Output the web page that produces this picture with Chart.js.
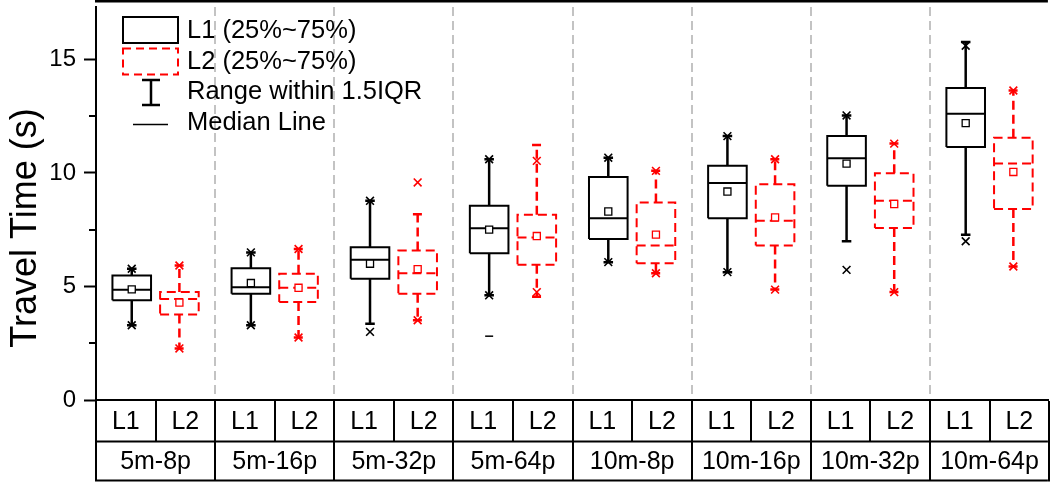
<!DOCTYPE html>
<html>
<head>
<meta charset="utf-8">
<script src="https://cdn.jsdelivr.net/npm/chart.js@4.4.0/dist/chart.umd.min.js"></script>
<style>
  html, body { margin: 0; padding: 0; background: #fff; }
</style>
</head>
<body>
<canvas id="myChart" width="1055" height="484"></canvas>
<script>
const FONT = '"Liberation Sans", Arial, sans-serif';
const RED = '#ff0000';

const GROUPS = ['5m-8p', '5m-16p', '5m-32p', '5m-64p', '10m-8p', '10m-16p', '10m-32p', '10m-64p'];
const LEVELS = ['L1', 'L2'];
const MAJOR_TICKS = [0, 5, 10, 15];
const MINOR_TICKS = [2.5, 7.5, 12.5];

// L1 boxes
const L1_Q1     = [4.39, 4.68, 5.34, 6.46, 7.09, 8.00, 9.43, 11.14];
const L1_Q3     = [5.48, 5.80, 6.73, 8.55, 9.82, 10.31, 11.62, 13.74];
const L1_MEDIAN = [4.85, 4.97, 6.18, 7.56, 8.00, 9.56, 10.64, 12.60];
const L1_MEAN   = [4.87, 5.15, 6.00, 7.50, 8.30, 9.18, 10.41, 12.19];
const L1_LOW    = [3.29, 3.29, 3.36, 4.61, 6.07, 5.63, 6.99, 7.28];
const L1_HIGH   = [5.78, 6.50, 8.77, 10.60, 10.67, 11.62, 12.53, 15.76];
const L1_MIN    = [3.29, 3.29, 3.00, 4.61, 6.07, 5.63, 5.73, 6.99];
const L1_MAX    = [5.78, 6.50, 8.77, 10.60, 10.67, 11.62, 12.53, 15.60];
const L1_DASH   = [null, null, null, 2.81, null, null, null, null];

// L2 boxes
const L2_Q1     = [3.76, 4.31, 4.68, 5.95, 6.02, 6.80, 7.57, 8.41];
const L2_Q3     = [4.75, 5.56, 6.58, 8.16, 8.70, 9.50, 9.98, 11.55];
const L2_MEDIAN = [4.45, 4.94, 5.58, 7.16, 6.80, 7.89, 8.77, 10.41];
const L2_MEAN   = [4.29, 4.94, 5.76, 7.22, 7.28, 8.04, 8.63, 10.04];
const L2_LOW    = [2.27, 2.75, 3.51, 4.55, 5.58, 4.86, 4.75, 5.88];
const L2_HIGH   = [5.92, 6.65, 8.18, 11.23, 10.09, 10.60, 11.29, 13.63];
const L2_MIN    = [2.27, 2.75, 3.51, 4.75, 5.58, 4.86, 4.75, 5.88];
const L2_MAX    = [5.92, 6.65, 9.58, 10.53, 10.09, 10.60, 11.29, 13.63];

const SHIFT = 0.2;       // L1 left of group centre, L2 right
const BOX_HALF = 0.162;
const CAP_HALF = 0.04;

const gap = x => ({ x: x, y: null });

function boxPoints(q1, q3, med, shift) {
    let pts = [];
    q1.forEach((v, i) => {
        let c = i + 0.5 + shift;
        let l = c - BOX_HALF, r = c + BOX_HALF;
        pts.push({x: l, y: q1[i]}, {x: r, y: q1[i]}, {x: r, y: q3[i]}, {x: l, y: q3[i]}, {x: l, y: q1[i]}, gap(l));
        pts.push({x: l, y: med[i]}, {x: r, y: med[i]}, gap(r));
    });
    return pts;
}

function whiskerPoints(q1, q3, low, high, shift) {
    let pts = [];
    q1.forEach((v, i) => {
        let c = i + 0.5 + shift;
        pts.push({x: c, y: q3[i]}, {x: c, y: high[i]}, gap(c));
        pts.push({x: c, y: q1[i]}, {x: c, y: low[i]}, gap(c));
        pts.push({x: c - CAP_HALF, y: high[i]}, {x: c + CAP_HALF, y: high[i]}, gap(c));
        pts.push({x: c - CAP_HALF, y: low[i]}, {x: c + CAP_HALF, y: low[i]}, gap(c));
    });
    return pts;
}

function markerPoints(values, shift) {
    return values.map((v, i) => ({ x: i + 0.5 + shift, y: v }));
}

function outlineSet(data, color, width, dash) {
    return {
        data: data,
        showLine: true,
        spanGaps: false,
        borderColor: color,
        borderWidth: width,
        borderDash: dash,
        pointRadius: 0,
        pointHoverRadius: 0,
        tension: 0
    };
}

function markerSet(data, color, style, radius, width, fill) {
    return {
        data: data,
        showLine: false,
        pointStyle: style,
        pointRadius: radius,
        pointHoverRadius: radius,
        pointBorderColor: color,
        pointBackgroundColor: fill || color,
        pointBorderWidth: width
    };
}

const datasets = [
    markerSet(markerPoints(L1_MEAN, -SHIFT), '#000', 'rect', 5, 1.3, '#fff'),
    markerSet(markerPoints(L2_MEAN, SHIFT), RED, 'rect', 5, 1.3, '#fff'),
    markerSet(markerPoints(L1_MIN, -SHIFT).concat(markerPoints(L1_MAX, -SHIFT)), '#000', 'crossRot', 5.5, 1.6),
    markerSet(markerPoints(L2_MIN, SHIFT).concat(markerPoints(L2_MAX, SHIFT)), RED, 'crossRot', 5.5, 1.6),
    markerSet(markerPoints(L1_DASH, -SHIFT), '#000', 'line', 4, 1.5),
    outlineSet(boxPoints(L1_Q1, L1_Q3, L1_MEDIAN, -SHIFT), '#000', 2, []),
    outlineSet(boxPoints(L2_Q1, L2_Q3, L2_MEDIAN, SHIFT), RED, 2, [9, 5]),
    outlineSet(whiskerPoints(L1_Q1, L1_Q3, L1_LOW, L1_HIGH, -SHIFT), '#000', 2.5, []),
    outlineSet(whiskerPoints(L2_Q1, L2_Q3, L2_LOW, L2_HIGH, SHIFT), RED, 2.5, [9, 5])
];

// frame top, minor ticks, axis title, category table and legend
const decorations = {
    id: 'decorations',
    afterDraw(chart) {
        const { ctx, chartArea: area, scales: { x, y } } = chart;
        ctx.save();
        ctx.strokeStyle = '#000';
        ctx.fillStyle = '#000';
        ctx.setLineDash([]);

        ctx.lineWidth = 2.5;
        ctx.beginPath();
        ctx.moveTo(area.left - 1, 1.2);
        ctx.lineTo(area.right, 1.2);
        ctx.stroke();

        ctx.lineWidth = 2;
        MINOR_TICKS.forEach(v => {
            let py = Math.round(y.getPixelForValue(v));
            ctx.beginPath();
            ctx.moveTo(area.left - 7, py);
            ctx.lineTo(area.left, py);
            ctx.stroke();
        });

        ctx.save();
        ctx.translate(26, 228);
        ctx.rotate(-Math.PI / 2);
        ctx.font = '36px ' + FONT;
        ctx.textAlign = 'center';
        ctx.textBaseline = 'middle';
        ctx.fillText('Travel Time (s)', 0, 0);
        ctx.restore();

        // two-row category table under the plot
        const rowTop = area.bottom + 1, rowMid = 441.5, rowBottom = 480.5;
        ctx.lineWidth = 2;
        ctx.beginPath();
        ctx.moveTo(area.left - 1, rowMid); ctx.lineTo(area.right, rowMid);
        ctx.moveTo(area.left - 1, rowBottom); ctx.lineTo(area.right, rowBottom);
        for (let k = 0; k <= GROUPS.length * 2; k++) {
            let px = Math.round(x.getPixelForValue(k / 2));
            ctx.moveTo(px, rowTop);
            ctx.lineTo(px, k % 2 === 0 ? rowBottom + 1 : rowMid);
        }
        ctx.stroke();

        ctx.font = '25px ' + FONT;
        ctx.textAlign = 'center';
        ctx.textBaseline = 'middle';
        GROUPS.forEach((g, i) => {
            LEVELS.forEach((lv, j) => {
                ctx.fillText(lv, x.getPixelForValue(i + 0.25 + j * 0.5), 422);
            });
            ctx.fillText(g, x.getPixelForValue(i + 0.5), 462.5);
        });

        // legend
        const lx = area.left;
        ctx.lineWidth = 2;
        ctx.strokeRect(lx + 27, 17, 55, 26);
        ctx.strokeStyle = RED;
        ctx.setLineDash([8, 5]);
        ctx.strokeRect(lx + 27, 48.5, 55, 26);
        ctx.setLineDash([]);
        ctx.strokeStyle = '#000';
        ctx.lineWidth = 2.5;
        ctx.beginPath();
        ctx.moveTo(lx + 55, 80); ctx.lineTo(lx + 55, 105);
        ctx.moveTo(lx + 46, 80); ctx.lineTo(lx + 64, 80);
        ctx.moveTo(lx + 46, 105); ctx.lineTo(lx + 64, 105);
        ctx.stroke();
        ctx.lineWidth = 1.5;
        ctx.beginPath();
        ctx.moveTo(lx + 37, 124.5); ctx.lineTo(lx + 72, 124.5);
        ctx.stroke();

        ctx.font = '25.5px ' + FONT;
        ctx.textAlign = 'left';
        ctx.fillText('L1 (25%~75%)', lx + 91, 31);
        ctx.fillText('L2 (25%~75%)', lx + 91, 62);
        ctx.fillText('Range within 1.5IQR', lx + 91, 91.5);
        ctx.fillText('Median Line', lx + 91, 123);
        ctx.restore();
    }
};

new Chart(document.getElementById('myChart'), {
    type: 'scatter',
    data: { datasets: datasets },
    options: {
        responsive: false,
        animation: false,
        devicePixelRatio: 1,
        layout: { padding: { top: 2, right: 0, bottom: 0, left: 0 } },
        plugins: {
            legend: { display: false },
            tooltip: { enabled: false }
        },
        scales: {
            x: {
                type: 'linear',
                min: 0,
                max: 7.99,
                afterFit: s => { s.height = 84; s.paddingLeft = 0; s.paddingRight = 0; },
                ticks: { display: false, stepSize: 1, includeBounds: false },
                grid: {
                    drawTicks: false,
                    lineWidth: 2,
                    color: c => (c.tick && c.tick.value > 0) ? '#c3c3c3' : 'rgba(0,0,0,0)'
                },
                border: { display: true, color: '#000', width: 2, dash: [9, 5] }
            },
            y: {
                min: 0,
                max: 17.3,
                afterFit: s => { s.width = 96; s.paddingTop = 0; s.paddingBottom = 0; },
                afterBuildTicks: s => { s.ticks = MAJOR_TICKS.map(v => ({ value: v })); },
                ticks: { color: '#000', padding: 8, font: { size: 24, family: FONT } },
                grid: { drawOnChartArea: false, color: '#000', tickLength: 12, tickWidth: 2 },
                border: { display: true, color: '#000', width: 2 }
            }
        }
    },
    plugins: [decorations]
});
</script>
</body>
</html>
